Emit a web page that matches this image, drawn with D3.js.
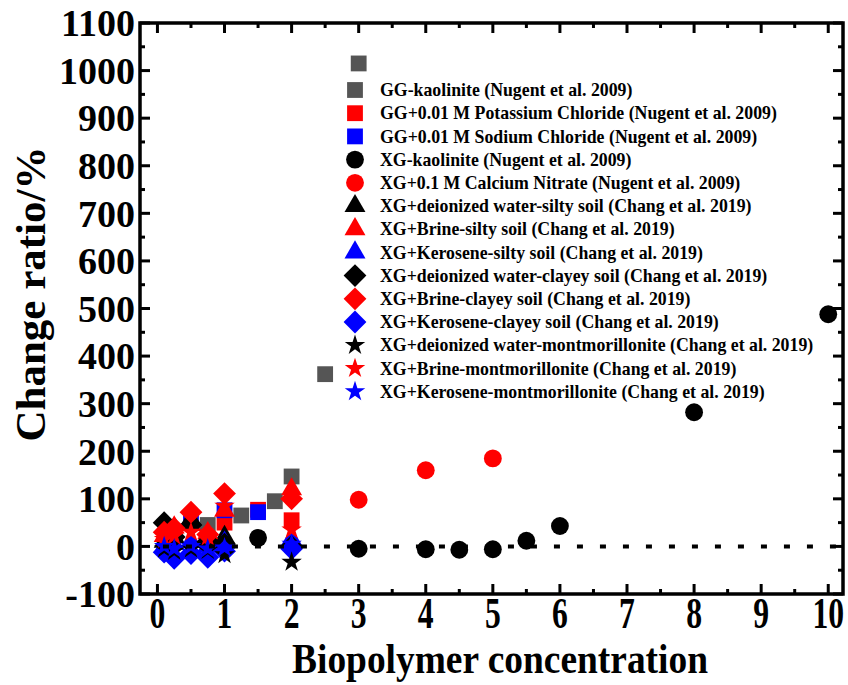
<!DOCTYPE html>
<html>
<head>
<meta charset="utf-8">
<script src="https://cdn.jsdelivr.net/npm/d3@7"></script>
<style>
  body { margin: 0; background: #fff; }
  svg text { font-family: "Liberation Serif", "Times New Roman", serif; font-weight: bold; fill: #000; }
</style>
</head>
<body>
<div id="chart"></div>
<script>
// ---- data: [concentration, change ratio %] ----
const ggKaolinite      = [[0.75, 45], [1.25, 65], [1.75, 95], [2, 147], [2.5, 362], [3, 1015]];
const ggKCl            = [[1, 50], [1.5, 77], [2, 55]];
const ggNaCl           = [[0.5, 58], [1, 76], [1.5, 72]];
const xgKaolinite      = [[1.5, 18], [3, -5], [4, -6], [4.5, -7], [5, -6], [5.5, 12], [6, 43], [8, 282], [10, 488]];
const xgCaNO3          = [[3, 98], [4, 160], [5, 185]];
const xgWaterSilty     = [[0.1, 10], [0.25, 20], [0.5, 57], [0.75, 15], [1, 20], [2, 10]];
const xgBrineSilty     = [[0.1, 22], [0.25, 40], [0.5, 45], [0.75, 28], [1, 75], [2, 120]];
const xgKeroseneSilty  = [[0.1, 0], [0.25, 5], [0.5, 10], [0.75, 0], [1, 8], [2, 15]];
const xgWaterClayey    = [[0.1, 50], [0.25, 20], [0.5, 45], [0.75, 10], [1, 5], [2, 0]];
const xgBrineClayey    = [[0.1, 30], [0.25, 38], [0.5, 72], [0.75, 25], [1, 111], [2, 100]];
const xgKeroseneClayey = [[0.1, -12], [0.25, -25], [0.5, -15], [0.75, -23], [1, -10], [2, -5]];
const xgWaterMont      = [[0.1, -5], [0.25, -10], [0.5, -5], [0.75, -8], [1, -17], [2, -33]];
const xgBrineMont      = [[0.1, 15], [0.25, 22], [0.5, 30], [0.75, 20], [1, 85], [2, 35]];
const xgKeroseneMont   = [[0.1, 0], [0.25, -5], [0.5, 0], [0.75, -5], [1, -3], [2, 5]];

const seriesNames = [
    'GG-kaolinite (Nugent et al. 2009)',
    'GG+0.01 M Potassium Chloride (Nugent et al. 2009)',
    'GG+0.01 M Sodium Chloride (Nugent et al. 2009)',
    'XG-kaolinite (Nugent et al. 2009)',
    'XG+0.1 M Calcium Nitrate (Nugent et al. 2009)',
    'XG+deionized water-silty soil (Chang et al. 2019)',
    'XG+Brine-silty soil (Chang et al. 2019)',
    'XG+Kerosene-silty soil (Chang et al. 2019)',
    'XG+deionized water-clayey soil (Chang et al. 2019)',
    'XG+Brine-clayey soil (Chang et al. 2019)',
    'XG+Kerosene-clayey soil (Chang et al. 2019)',
    'XG+deionized water-montmorillonite (Chang et al. 2019)',
    'XG+Brine-montmorillonite (Chang et al. 2019)',
    'XG+Kerosene-montmorillonite (Chang et al. 2019)'
];
const seriesData = [ggKaolinite, ggKCl, ggNaCl, xgKaolinite, xgCaNO3,
    xgWaterSilty, xgBrineSilty, xgKeroseneSilty,
    xgWaterClayey, xgBrineClayey, xgKeroseneClayey,
    xgWaterMont, xgBrineMont, xgKeroseneMont];

const xTicks = d3.range(0, 11, 1);
const yTicks = d3.range(-100, 1101, 100);

// ---- layout ----
const width = 848, height = 685;
const box = { left: 140, right: 843, top: 23, bottom: 594 };

const x = d3.scaleLinear([-0.26, 10.22], [box.left, box.right]);
const y = d3.scaleLinear([-100, 1100], [box.bottom, box.top]);

// marker style per series (same order as the legend)
const shapes = {
    square:   { type: d3.symbolSquare, size: 250, rotate: 0 },
    circle:   { type: d3.symbolCircle, size: 250, rotate: 0 },
    triangle: { type: d3.symbolTriangle, size: 190, rotate: 0 },
    diamond:  { type: d3.symbolSquare, size: 260, rotate: 45 },
    star:     { type: d3.symbolStar, size: 130, rotate: 0 }
};
const styles = [
    ['square', '#555555'], ['square', '#ff0000'], ['square', '#0000ff'],
    ['circle', '#000000'], ['circle', '#ff0000'],
    ['triangle', '#000000'], ['triangle', '#ff0000'], ['triangle', '#0000ff'],
    ['diamond', '#000000'], ['diamond', '#ff0000'], ['diamond', '#0000ff'],
    ['star', '#000000'], ['star', '#ff0000'], ['star', '#0000ff']
];

const series = seriesNames.map((name, i) => ({
    name: name,
    data: seriesData[i],
    shape: shapes[styles[i][0]],
    color: styles[i][1]
}));

const svg = d3.select('#chart')
    .append('svg')
    .attr('width', width)
    .attr('height', height);

function drawMarker(g, s, cx, cy) {
    g.append('path')
        .attr('d', d3.symbol(s.shape.type, s.shape.size)())
        .attr('transform', `translate(${cx},${cy}) rotate(${s.shape.rotate})`)
        .attr('fill', s.color);
}

// ---- points ----
const points = svg.append('g').attr('class', 'points');
series.forEach(s => {
    s.data.forEach(d => drawMarker(points, s, x(d[0]), y(d[1])));
});

// dotted zero line, drawn over the markers
svg.append('line')
    .attr('x1', x(0))
    .attr('x2', box.right)
    .attr('y1', y(0))
    .attr('y2', y(0))
    .attr('stroke', '#000')
    .attr('stroke-width', 4)
    .attr('stroke-dasharray', '6,17')
    .attr('stroke-dashoffset', 17.5);

// ---- axes frame and inward ticks ----
const axes = svg.append('g').attr('class', 'axes');
const tickLen = 10, minorLen = 5;

xTicks.forEach(t => {
    [[t, tickLen], [t + 0.5, minorLen]].forEach(([v, len]) => {
        if (v > 10) return;
        axes.append('line').attr('x1', x(v)).attr('x2', x(v))
            .attr('y1', box.bottom).attr('y2', box.bottom - len);
        axes.append('line').attr('x1', x(v)).attr('x2', x(v))
            .attr('y1', box.top).attr('y2', box.top + len);
    });
});
yTicks.forEach(t => {
    [[t, tickLen], [t + 50, minorLen]].forEach(([v, len]) => {
        if (v > 1100) return;
        axes.append('line').attr('x1', box.left).attr('x2', box.left + len)
            .attr('y1', y(v)).attr('y2', y(v));
        axes.append('line').attr('x1', box.right).attr('x2', box.right - len)
            .attr('y1', y(v)).attr('y2', y(v));
    });
});
axes.selectAll('line')
    .attr('stroke', '#000')
    .attr('stroke-width', 3);

axes.append('rect')
    .attr('x', box.left)
    .attr('y', box.top)
    .attr('width', box.right - box.left)
    .attr('height', box.bottom - box.top)
    .attr('fill', 'none')
    .attr('stroke', '#000')
    .attr('stroke-width', 3.5);

// tick labels
svg.append('g')
    .selectAll('text')
    .data(yTicks)
    .enter()
    .append('text')
    .attr('x', 135)
    .attr('y', d => y(d))
    .attr('dy', '0.35em')
    .attr('text-anchor', 'end')
    .style('font-size', '38px')
    .text(d => d);

// x labels are narrow in the original, so squeeze them horizontally
svg.append('g')
    .selectAll('text')
    .data(xTicks)
    .enter()
    .append('text')
    .attr('transform', d => `translate(${x(d)}, 628) scale(0.72, 1)`)
    .attr('text-anchor', 'middle')
    .style('font-size', '44px')
    .text(d => d);

// axis titles
svg.append('text')
    .attr('transform', 'translate(45, 294) rotate(-90)')
    .attr('text-anchor', 'middle')
    .style('font-size', '43px')
    .text('Change ratio/%');

svg.append('text')
    .attr('transform', 'translate(500, 673) scale(0.87, 1)')
    .attr('text-anchor', 'middle')
    .style('font-size', '43px')
    .text('Biopolymer concentration');

// ---- legend ----
const legend = svg.append('g').attr('class', 'legend');
series.forEach((s, i) => {
    const ly = 90 + i * 23.2;
    drawMarker(legend, s, 355, ly);
    legend.append('text')
        .attr('x', 380)
        .attr('y', ly)
        .attr('dy', '0.35em')
        .style('font-size', '17.8px')
        .text(s.name);
});
</script>
</body>
</html>
